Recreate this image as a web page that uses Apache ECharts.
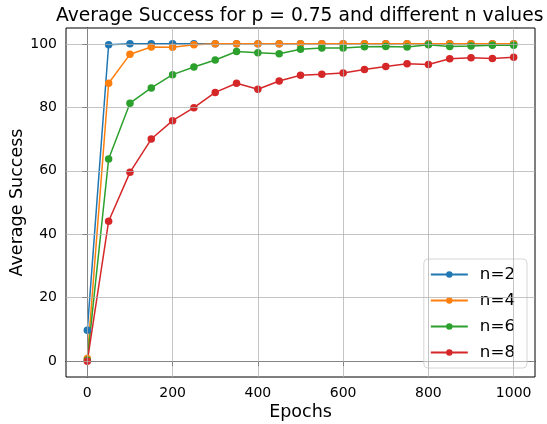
<!DOCTYPE html>
<html lang="en">
<head>
    <meta charset="UTF-8">
    <title>Average Success</title>
    <script src="https://cdn.jsdelivr.net/npm/echarts@6/dist/echarts.min.js"></script>
    <style>
        body {margin:0}
    </style>
</head>
<body>
<div id="main" style="width: 547px; height:424px;"></div>
<script>
    // epochs 0..1000 step 50
    var epochs = [0, 50, 100, 150, 200, 250, 300, 350, 400, 450, 500, 550, 600, 650, 700, 750, 800, 850, 900, 950, 1000];
    var n2 = [9.7, 99.7, 100, 100, 100, 100, 100, 100, 100, 100, 100, 100, 100, 100, 100, 100, 100, 100, 100, 100, 100];
    var n4 = [0.8, 87.6, 96.7, 99.0, 98.9, 99.7, 100, 100, 100, 100, 100, 100, 100, 100, 100, 100, 100, 100, 100, 100, 100];
    var n6 = [0.3, 63.7, 81.3, 86.1, 90.3, 92.7, 94.9, 97.6, 97.2, 96.9, 98.3, 98.7, 98.7, 99.1, 99.2, 99.0, 99.7, 99.2, 99.3, 99.6, 99.6];
    var n8 = [0, 44.1, 59.5, 70.0, 75.8, 79.9, 84.7, 87.6, 85.7, 88.3, 90.1, 90.4, 90.8, 91.9, 92.9, 93.7, 93.5, 95.3, 95.6, 95.4, 95.8];
    var xTicks = [0, 200, 400, 600, 800, 1000];
    var yTicks = [0, 20, 40, 60, 80, 100];
    var names = ['n=2', 'n=4', 'n=6', 'n=8'];
    var colors = ['#1f77b4', '#ff7f0e', '#2ca02c', '#d62728'];

    function pairs(ys) {
        return epochs.map(function (x, i) { return [x, ys[i]]; });
    }

    var font = 'DejaVu Sans';
    var chart = echarts.init(document.getElementById('main'));

    // grid lines only at the tick values
    var gridLines = xTicks.map(function (v) { return {xAxis: v}; })
        .concat(yTicks.map(function (v) { return {yAxis: v}; }));

    var series = [{
        name: 'grid',
        type: 'line',
        data: [],
        z: 1,
        markLine: {
            silent: true,
            symbol: ['none', 'none'],
            label: {show: false},
            lineStyle: {color: '#b0b0b0', width: 1, type: 'solid', opacity: 0.75},
            data: gridLines
        }
    }];
    [n2, n4, n6, n8].forEach(function (ys, k) {
        series.push({
            name: names[k],
            type: 'line',
            data: pairs(ys),
            z: 3,
            symbol: 'circle',
            symbolSize: 7.5,
            lineStyle: {width: 1.5},
            itemStyle: {color: colors[k]}
        });
    });

    chart.setOption({
        animation: false,
        color: colors,
        title: {
            text: 'Average Success for p = 0.75 and different n values',
            left: 51,
            top: 2,
            textStyle: {fontFamily: font, fontSize: 18.7, fontWeight: 'normal', color: '#000'}
        },
        legend: {
            data: names,
            orient: 'vertical',
            right: 20,
            bottom: 56,
            itemWidth: 37,
            itemHeight: 8,
            itemGap: 9,
            padding: [7, 12, 7, 6],
            borderColor: '#d6d6d6',
            borderWidth: 1,
            borderRadius: 4,
            backgroundColor: 'rgba(255,255,255,0.8)',
            textStyle: {fontFamily: font, fontSize: 16.7, color: '#000', lineHeight: 17, padding: [0, 0, 0, 7]}
        },
        grid: {
            left: 66, right: 12, top: 28, bottom: 47,
            outerBoundsMode: 'none',
            containLabel: false,
            show: true, borderColor: '#000', borderWidth: 1
        },
        xAxis: {
            type: 'value',
            min: -50,
            max: 1050,
            interval: 50,
            name: 'Epochs',
            nameLocation: 'middle',
            nameGap: 26,
            nameMoveOverlap: false,
            nameTextStyle: {fontFamily: font, fontSize: 17.5, color: '#000'},
            axisLine: {show: true, lineStyle: {color: '#000'}},
            axisTick: {show: true, length: 5, lineStyle: {color: '#000'}, customValues: xTicks},
            axisLabel: {
                fontFamily: font, fontSize: 14, color: '#000', margin: 9, customValues: xTicks,
                formatter: function (v) { return String(v); }
            },
            splitLine: {show: false}
        },
        yAxis: {
            type: 'value',
            min: -5,
            max: 105,
            interval: 5,
            name: 'Average Success',
            nameLocation: 'middle',
            nameGap: 40,
            nameMoveOverlap: false,
            nameTextStyle: {fontFamily: font, fontSize: 17.5, color: '#000'},
            axisLine: {show: true, lineStyle: {color: '#000'}},
            axisTick: {show: true, length: 5, lineStyle: {color: '#000'}, customValues: yTicks},
            axisLabel: {fontFamily: font, fontSize: 14, color: '#000', margin: 9, customValues: yTicks},
            splitLine: {show: false}
        },
        series: series
    });
</script>
</body>
</html>
